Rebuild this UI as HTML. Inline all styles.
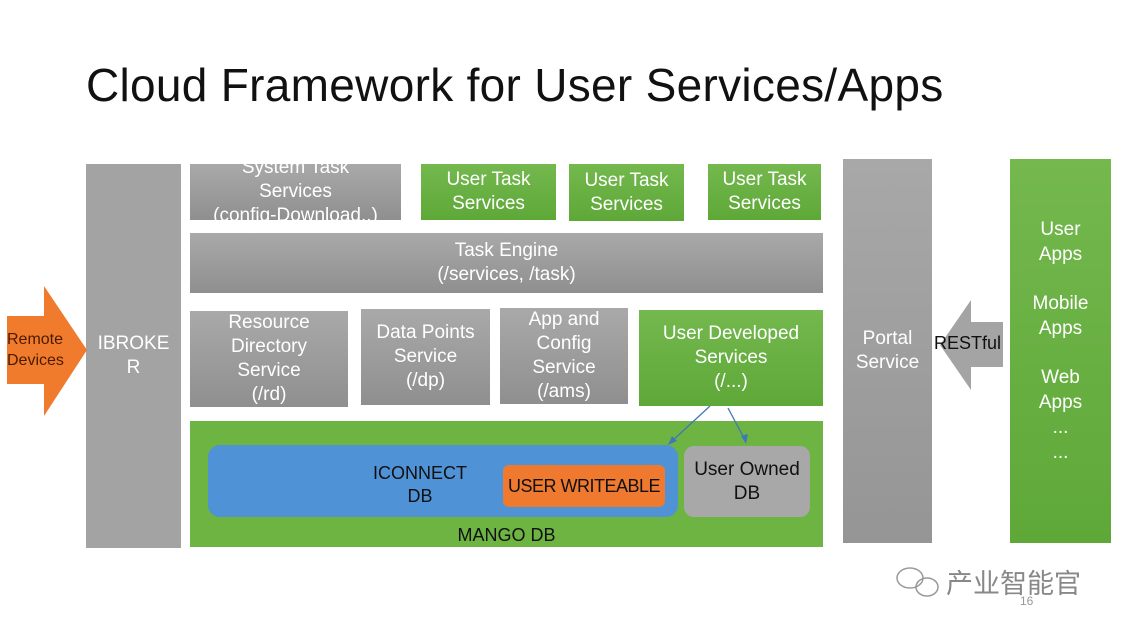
<!DOCTYPE html>
<html><head><meta charset="utf-8"><style>
body{margin:0;width:1122px;height:632px;background:#fff;position:relative;overflow:hidden;font-family:"Liberation Sans","Noto Sans CJK SC",sans-serif}
.b{position:absolute;display:flex;align-items:center;justify-content:center;text-align:center;color:#fff;font-size:19px;line-height:24px;overflow:hidden;box-sizing:border-box;white-space:nowrap}
.g{background:linear-gradient(#a9a9a9,#8f8f8f)}
.gr{background:linear-gradient(#74b84e,#5ea838)}
</style></head><body>
<div style="position:absolute;left:86px;top:58px;font-size:46px;color:#111;letter-spacing:0.3px">Cloud Framework for User Services/Apps</div>

<div class="b g" style="left:86px;top:164px;width:95px;height:384px;background:#a3a3a3">IBROKE<br>R</div>
<div class="b g" style="left:190px;top:164px;width:211px;height:56px;align-items:flex-start"><div style="margin-top:-8px">System Task<br>Services<br>(config-Download..)</div></div>
<div class="b gr" style="left:421px;top:164px;width:135px;height:56px">User Task<br>Services</div>
<div class="b gr" style="left:569px;top:164px;width:115px;height:57px">User Task<br>Services</div>
<div class="b gr" style="left:708px;top:164px;width:113px;height:56px">User Task<br>Services</div>
<div class="b g" style="left:190px;top:233px;width:633px;height:60px">Task Engine<br>(/services, /task)</div>
<div class="b g" style="left:190px;top:311px;width:158px;height:96px">Resource<br>Directory<br>Service<br>(/rd)</div>
<div class="b g" style="left:361px;top:309px;width:129px;height:96px">Data Points<br>Service<br>(/dp)</div>
<div class="b g" style="left:500px;top:308px;width:128px;height:96px">App and<br>Config<br>Service<br>(/ams)</div>
<div class="b gr" style="left:639px;top:310px;width:184px;height:96px">User Developed<br>Services<br>(/...)</div>

<div style="position:absolute;left:190px;top:421px;width:633px;height:126px;background:#6db443"></div>
<div style="position:absolute;left:208px;top:445px;width:470px;height:72px;background:#4f92d6;border-radius:12px"></div>
<div class="b" style="left:360px;top:460px;width:120px;height:50px;color:#111;font-size:18px;line-height:23px">ICONNECT<br>DB</div>
<div class="b" style="left:503px;top:465px;width:162px;height:42px;background:#ef7a2f;border-radius:6px;color:#111;font-size:18px;letter-spacing:-0.5px">USER WRITEABLE</div>
<div class="b" style="left:684px;top:446px;width:126px;height:71px;background:#a8a8a8;border-radius:10px;color:#111;font-size:19px">User Owned<br>DB</div>
<div class="b" style="left:190px;top:523px;width:633px;height:24px;color:#111;font-size:18px">MANGO DB</div>

<div class="b g" style="left:843px;top:159px;width:89px;height:384px;background:linear-gradient(#a8a8a8,#959595)">Portal<br>Service</div>
<div class="b gr" style="left:1010px;top:159px;width:101px;height:384px;align-items:flex-start"><div style="margin-top:58px;line-height:25px">User<br>Apps<br><div style="height:24px"></div>Mobile<br>Apps<br><div style="height:24px"></div>Web<br>Apps<br>...<br>...</div></div>

<svg style="position:absolute;left:0;top:0" width="1122" height="632">
<polygon points="7,316 44,316 44,286 87,350 44,416 44,384 7,384" fill="#f07b2c"/>
<polygon points="1003,322 971,322 971,300 940,345 971,390 971,367 1003,367" fill="#a4a4a4"/>
<line x1="710" y1="406" x2="671" y2="442" stroke="#3f78b8" stroke-width="1.3"/>
<polygon points="668,445 672,436 677,441" fill="#3f78b8"/>
<line x1="728" y1="408" x2="745" y2="440" stroke="#3f78b8" stroke-width="1.3"/>
<polygon points="746,444 741,436 748,434" fill="#3f78b8"/>
<g fill="none" stroke="#999" stroke-width="1.5"><ellipse cx="910" cy="578" rx="13" ry="10"/><ellipse cx="927" cy="587" rx="11" ry="9"/></g>
</svg>
<div style="position:absolute;left:7px;top:329px;width:70px;font-size:16px;line-height:21px;color:#4a1a00">Remote<br>Devices</div>
<div style="position:absolute;left:934px;top:333px;font-size:18px;color:#111">RESTful</div>
<div style="position:absolute;left:946px;top:562px;font-size:27px;color:#888">产业智能官</div>
<div style="position:absolute;left:1020px;top:594px;font-size:12px;color:#999">16</div>
</body></html>
